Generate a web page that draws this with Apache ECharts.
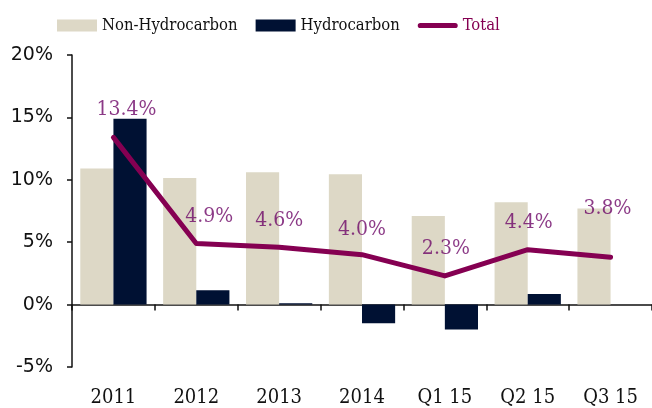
<!DOCTYPE html>
<html>
<head>
<meta charset="utf-8">
<script src="https://cdn.jsdelivr.net/npm/echarts@6/dist/echarts.min.js"></script>
<style>
  html, body { margin: 0; padding: 0; background: #fff; }
  #chart { width: 652px; height: 408px; }
</style>
</head>
<body>
<div id="chart"></div>
<script>
const categories = ["2011", "2012", "2013", "2014", "Q1 15", "Q2 15", "Q3 15"];
const nonHydrocarbon = [10.9, 10.15, 10.6, 10.45, 7.1, 8.2, 7.7];
const hydrocarbon = [14.9, 1.15, 0.1, -1.5, -2.0, 0.85, 0.0];
const total = [13.4, 4.9, 4.6, 4.0, 2.3, 4.4, 3.8];
const yTicks = { min: -5, max: 20, interval: 5 };

const serif = "'DejaVu Serif Condensed', 'DejaVu Serif', serif";
const totalColor = "#850052";
const labelColor = "#6e0868";

// label lift above each point
const labelLift = [28, 27, 27, 25, 27, 27, 49];
const labelShift = [13, 13, 0, 0, 1, 1, -3];

const chart = echarts.init(document.getElementById("chart"), null, { renderer: "canvas" });

chart.setOption({
  animation: false,
  textStyle: { fontFamily: serif },
  legend: {
    top: 12,
    left: 52,
    itemWidth: 40,
    itemHeight: 12,
    itemGap: 18,
    textStyle: { fontFamily: serif, fontSize: 16.5, color: "#111" },
    data: [
      { name: "Non-Hydrocarbon", icon: "rect" },
      { name: "Hydrocarbon", icon: "rect" },
      {
        name: "Total",
        icon: "path://M3,0 L43,0 A3,3 0 0 1 43,6 L3,6 A3,3 0 0 1 3,0 Z",
        textStyle: { color: totalColor }
      }
    ]
  },
  grid: { left: 72, right: 0, top: 55, bottom: 41, outerBoundsMode: "none", containLabel: false },
  xAxis: [
    {
      type: "category",
      data: categories,
      position: "bottom",
      axisLine: { show: false, onZero: false },
      axisTick: { show: false },
      axisLabel: { color: "#111", fontSize: 20, fontFamily: serif, margin: 21 }
    },
    {
      type: "category",
      data: categories,
      position: "top",
      axisLine: { onZero: true, lineStyle: { color: "#111", width: 1.5 } },
      axisTick: { show: true, inside: true, length: 6, lineStyle: { color: "#111", width: 1.5 } },
      axisLabel: { show: false }
    }
  ],
  yAxis: {
    type: "value",
    min: yTicks.min,
    max: yTicks.max,
    interval: yTicks.interval,
    axisLine: { show: true, lineStyle: { color: "#111", width: 1.5 } },
    axisTick: { show: true, length: 5, lineStyle: { color: "#111", width: 1.5 } },
    splitLine: { show: false },
    axisLabel: {
      color: "#111",
      fontSize: 19,
      fontFamily: "'DejaVu Sans', sans-serif",
      margin: 19,
      formatter: (v) => v + "%"
    }
  },
  series: [
    {
      name: "Non-Hydrocarbon",
      type: "bar",
      data: nonHydrocarbon,
      barGap: "0%",
      barCategoryGap: "20%",
      itemStyle: { color: "#ddd8c6" }
    },
    {
      name: "Hydrocarbon",
      type: "bar",
      data: hydrocarbon,
      itemStyle: { color: "#001133" }
    },
    {
      name: "Total",
      type: "line",
      data: total,
      symbol: "none",
      lineStyle: { color: totalColor, width: 5, cap: "round", join: "round" },
      itemStyle: { color: totalColor },
      z: 5
    },
    {
      name: "Total labels",
      type: "scatter",
      data: total.map((v, i) => ({
        value: v,
        label: { offset: [labelShift[i], -labelLift[i]] }
      })),
      symbolSize: 0.1,
      itemStyle: { color: totalColor },
      label: {
        show: true,
        position: "inside",
        color: labelColor,
        fontSize: 21,
        fontFamily: serif,
        formatter: (p) => p.value.toFixed(1) + "%"
      },
      emphasis: { disabled: true },
      z: 6
    }
  ]
});
</script>
</body>
</html>
